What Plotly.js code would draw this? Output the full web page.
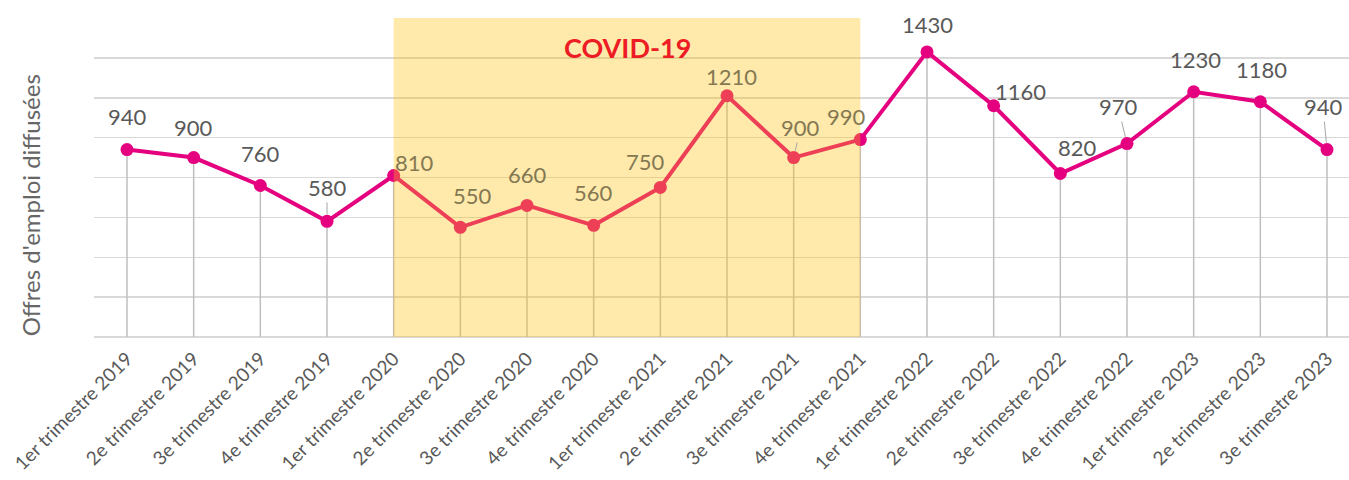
<!DOCTYPE html>
<html><head><meta charset="utf-8">
<script src="https://cdn.plot.ly/plotly-3.0.1.min.js"></script>
<style>html,body{margin:0;padding:0;background:#fff}#chart{width:1349px;height:480px}</style>
</head><body><div id="chart"></div>
<script>
// ---- data ----
const categories = [
  "1er trimestre 2019","2e trimestre 2019","3e trimestre 2019","4e trimestre 2019",
  "1er trimestre 2020","2e trimestre 2020","3e trimestre 2020","4e trimestre 2020",
  "1er trimestre 2021","2e trimestre 2021","3e trimestre 2021","4e trimestre 2021",
  "1er trimestre 2022","2e trimestre 2022","3e trimestre 2022","4e trimestre 2022",
  "1er trimestre 2023","2e trimestre 2023","3e trimestre 2023"
];
const values = [940, 900, 760, 580, 810, 550, 660, 560, 750, 1210, 900, 990, 1430, 1160, 820, 970, 1230, 1180, 940];
const covidFirstIndex = 4;
const covidLastIndex = 11;
const covidLabel = "COVID-19";
const yTitle = "Offres d'emploi diffusées";

// ---- label placement (pixel offsets of each value label from its point) ----
const labelDx = [0, 0, 0, 0, 21, 12, 0, 0, -15, 4, 7, -14, 0, 27, 17, -9, 2, 1, -4];
const labelDy = [-33, -30, -32, -34, -13, -32, -31, -33, -26, -19, -30, -23, -27, -14, -26, -37, -32, -32, -43];
const leader  = [0,0,0,1,0,0,0,0,0,0,1,0,0,0,0,1,0,0,1];

const FONT = "Lato, 'Open Sans', 'Liberation Sans', sans-serif";
const labelGrey = "#595959";
const labelCovid = "#847852";
const lineColor = "#E4007F";

const zeros = values.map(() => 0);

const dropLines = {
  type: "scatter", mode: "markers", x: categories, y: values,
  marker: {size: 1, opacity: 0},
  error_y: {type: "data", symmetric: false, array: zeros, arrayminus: values,
            thickness: 1.5, width: 0, color: "#bfbfbf"},
  hoverinfo: "skip", showlegend: false
};
const mainLine = {
  type: "scatter", mode: "lines+markers", x: categories, y: values,
  line: {color: lineColor, width: 4},
  marker: {color: lineColor, size: 13},
  hoverinfo: "skip", showlegend: false
};

const annotations = values.map((v, i) => {
  const inCovid = i >= covidFirstIndex && i <= covidLastIndex;
  return {
    xref: "x", yref: "y", x: i, y: v, text: String(v),
    showarrow: true, ax: labelDx[i], ay: labelDy[i],
    arrowhead: 0, arrowwidth: 1, standoff: 7,
    arrowcolor: leader[i] ? "#a6a6a6" : "rgba(0,0,0,0)",
    font: {family: FONT, size: 22, color: inCovid ? labelCovid : labelGrey}
  };
});
annotations.push({
  xref: "x", yref: "paper", x: (covidFirstIndex + covidLastIndex) / 2, y: 0.906,
  xanchor: "center", yanchor: "middle",
  text: "<b>" + covidLabel + "</b>", showarrow: false,
  font: {family: FONT, size: 27, color: "#ED1C24"}
});
annotations.push({
  xref: "paper", yref: "paper", x: -0.051, y: 0.413,
  xanchor: "center", yanchor: "middle",
  text: yTitle, showarrow: false, textangle: -90,
  font: {family: FONT, size: 24, color: "#666666"}
});

const layout = {
  width: 1349, height: 480,
  margin: {l: 94, r: 0, t: 18, b: 143.4},
  paper_bgcolor: "#ffffff", plot_bgcolor: "#ffffff",
  showlegend: false, hovermode: false,
  xaxis: {
    type: "category", range: [-0.495, 18.33], showgrid: false, zeroline: false,
    showline: false, ticks: "", tickangle: -45, ticklabelstandoff: 6,
    tickfont: {family: FONT, size: 19, color: "#595959"}, automargin: false
  },
  yaxis: {
    range: [0, 1600], dtick: 200, showticklabels: false, ticks: "",
    gridcolor: "#d9d9d9", gridwidth: 1.5,
    zeroline: true, zerolinecolor: "#d9d9d9", zerolinewidth: 2, showline: false
  },
  shapes: [{
    type: "rect", layer: "above", xref: "x", yref: "y",
    x0: covidFirstIndex, x1: covidLastIndex, y0: 0, y1: 1600,
    fillcolor: "#FFC000", opacity: 0.33, line: {width: 0}
  }],
  annotations: annotations
};

Plotly.newPlot("chart", [dropLines, mainLine], layout, {staticPlot: true, displayModeBar: false});
</script>
</body></html>
